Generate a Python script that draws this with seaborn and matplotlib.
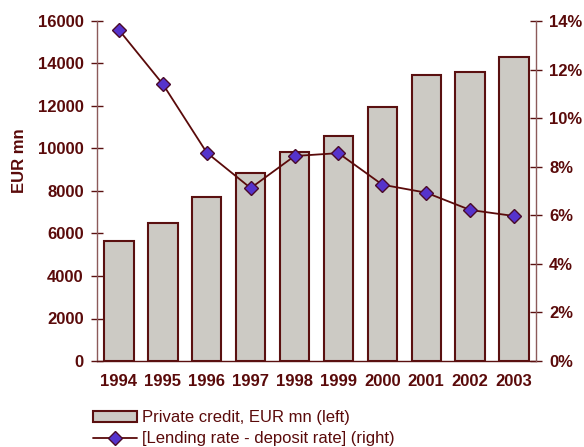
import numpy as np
import pandas as pd
import matplotlib
matplotlib.use("Agg")
import matplotlib.pyplot as plt
import seaborn as sns
from matplotlib.patches import Patch
from matplotlib.lines import Line2D

years = ["1994", "1995", "1996", "1997", "1998", "1999", "2000", "2001", "2002", "2003"]
credit = [5670, 6510, 7740, 8870, 9820, 10570, 11940, 13450, 13620, 14290]
spread = [13.63, 11.40, 8.58, 7.12, 8.44, 8.56, 7.26, 6.93, 6.22, 5.97]
left_ticks = [0, 2000, 4000, 6000, 8000, 10000, 12000, 14000, 16000]
right_ticks = [0, 2, 4, 6, 8, 10, 12, 14]
bar_label = "Private credit, EUR mn (left)"
line_label = "[Lending rate - deposit rate] (right)"

sns.set_theme(style="white")
plt.rcParams["font.family"] = ["Liberation Sans", "DejaVu Sans"]

TXT = "#5a0a0a"
SPINE = "#8c5a5a"
BAR_FILL = "#cccac4"
BAR_EDGE = "#5a1010"
MARK = "#5533cc"

df = pd.DataFrame({"year": years, "credit": credit, "spread": spread})

fig = plt.figure(figsize=(5.84, 4.47), dpi=100)
ax = fig.add_axes([97 / 584, 1 - 361 / 447, (536 - 97) / 584, (361 - 21) / 447])

sns.barplot(data=df, x="year", y="credit", color=BAR_FILL, edgecolor=BAR_EDGE,
            linewidth=1.5, width=0.67, saturation=1, ax=ax)
for p in ax.patches:
    p.set_facecolor(BAR_FILL)

ax.set_ylim(0, 16000)
ax.set_xlim(-0.5, len(years) - 0.5)
ax.set_yticks(left_ticks)
ax.set_yticklabels([str(v) for v in left_ticks], fontsize=12, fontweight="bold", color=TXT)
ax.set_xticks(range(len(years)))
ax.set_xticklabels(years, fontsize=12, fontweight="bold", color=TXT)
ax.set_xticks(np.arange(-0.5, len(years), 1.0), minor=True)
ax.tick_params(axis="x", which="major", length=0, pad=9)
ax.tick_params(axis="x", which="minor", length=5, direction="out", color=BAR_EDGE, width=1)
ax.tick_params(axis="y", length=9, direction="inout", color=BAR_EDGE, width=1, pad=5)
ax.set_xlabel("")
ax.set_ylabel("EUR mn", fontsize=12, fontweight="bold", color=TXT)
ax.yaxis.set_label_coords(-0.16, 0.59)

ax2 = ax.twinx()
sns.lineplot(x=np.arange(len(years)), y=spread, ax=ax2, color=TXT, linewidth=1.3,
             marker="D", markersize=7, markerfacecolor=MARK, markeredgecolor="#4a0a2a",
             markeredgewidth=1.0)
ax2.set_ylim(0, 14)
ax2.set_yticks(right_ticks)
ax2.set_yticklabels([f"{v}%" for v in right_ticks], fontsize=12, fontweight="bold", color=TXT)
ax2.tick_params(axis="y", length=9, direction="inout", color=BAR_EDGE, width=1, pad=5)
ax2.set_xlim(-0.5, len(years) - 0.5)

for a in (ax, ax2):
    a.spines["top"].set_visible(False)
    for s in ("left", "right", "bottom"):
        a.spines[s].set_color(SPINE)
        a.spines[s].set_linewidth(1.0)
ax.spines["right"].set_visible(False)
ax2.spines["left"].set_visible(False)
ax2.spines["bottom"].set_visible(False)
ax.spines["bottom"].set_color(BAR_EDGE)

handles = [
    Patch(facecolor=BAR_FILL, edgecolor=BAR_EDGE, linewidth=1.5),
    Line2D([0], [0], color=TXT, linewidth=1.3, marker="D", markersize=7,
           markerfacecolor=MARK, markeredgecolor="#4a0a2a"),
]
leg = fig.legend(handles, [bar_label, line_label], loc="upper left",
                 bbox_to_anchor=(85 / 584, 1 - 402 / 447), frameon=False,
                 fontsize=12, handlelength=2.6, handleheight=0.6, handletextpad=0.3,
                 labelspacing=0.35, borderpad=0)
for t in leg.get_texts():
    t.set_color(TXT)

fig.savefig("out.png", dpi=100)
